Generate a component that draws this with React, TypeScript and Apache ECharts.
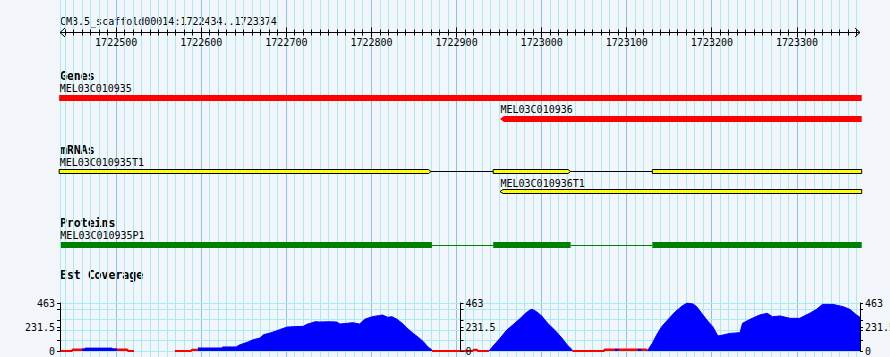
import React, { useEffect, useRef } from 'react';
import * as echarts from 'echarts';

// ---------- region & ruler ----------
const regionStart = 1722434;
const regionEnd = 1723374;
const regionTitle = 'CM3.5_scaffold00014:1722434..1723374';
const rulerLabels = [1722500, 1722600, 1722700, 1722800, 1722900, 1723000, 1723100, 1723200, 1723300];
const trackTitles = ['Genes', 'mRNAs', 'Proteins', 'Est Coverage'];

// ---------- genes ----------
const geneNames = ['MEL03C010935', 'MEL03C010936'];
const geneStarts = [1722433, 1722951];
const geneEnds = [1723376, 1723376];
const geneStrands = [1, -1];

// ---------- mRNAs ----------
const mrnaNames = ['MEL03C010935T1', 'MEL03C010936T1'];
const mrnaExons = [
  [[1722433, 1722867], [1722943, 1723031], [1723130, 1723376]],
  [[1722951, 1723376]],
];
const mrnaStrands = [1, -1];

// ---------- proteins ----------
const proteinNames = ['MEL03C010935P1'];
const proteinSegments = [
  [[1722435, 1722871], [1722943, 1723034], [1723130, 1723376]],
];

// ---------- EST coverage ----------
const coverageMax = 463;
const coverageTickValues = [0, 100, 200, 231.5, 300, 400, 463];
const coverageLabelValues = [0, 231.5, 463];
const coverageGridValues = [0, 100, 200, 300, 400, 463];

const coverageHigh = [
  [[1722460, 20], [1722463, 20], [1722464, 28], [1722495, 28], [1722496, 20], [1722501, 20]],
  [[1722596, 29], [1722624, 29], [1722625, 39], [1722641, 39], [1722644, 55], [1722649, 70], [1722655, 87],
   [1722661, 109], [1722669, 125], [1722673, 157], [1722681, 174], [1722687, 190], [1722692, 206],
   [1722701, 231], [1722710, 235], [1722720, 238], [1722724, 257], [1722728, 267], [1722734, 283],
   [1722739, 280], [1722751, 282], [1722759, 280], [1722763, 260], [1722771, 267], [1722778, 273],
   [1722786, 260], [1722792, 306], [1722801, 331], [1722808, 341], [1722813, 347], [1722819, 325],
   [1722824, 331], [1722830, 306], [1722836, 267], [1722842, 219], [1722849, 170], [1722855, 132],
   [1722861, 90], [1722866, 42], [1722871, 10]],
  [[1722938, 0], [1722943, 48], [1722951, 122], [1722959, 202], [1722966, 251], [1722975, 315],
   [1722980, 357], [1722986, 395], [1722989, 402], [1722994, 379], [1723000, 338], [1723007, 267],
   [1723016, 196], [1723024, 122], [1723030, 58], [1723036, 10]],
  [[1723086, 16], [1723090, 16]],
  [[1723113, 16], [1723117, 16]],
  [[1723124, 0], [1723130, 74], [1723135, 154], [1723141, 235], [1723148, 299], [1723157, 379],
   [1723165, 434], [1723171, 463], [1723178, 453], [1723182, 428], [1723188, 364], [1723194, 299],
   [1723201, 235], [1723207, 145], [1723213, 154], [1723221, 170], [1723233, 177], [1723236, 267],
   [1723245, 306], [1723256, 347], [1723265, 364], [1723271, 331], [1723280, 338], [1723292, 315],
   [1723303, 315], [1723315, 364], [1723323, 402], [1723330, 450], [1723342, 450], [1723354, 428],
   [1723362, 402], [1723370, 347], [1723374, 325]],
];

const coverageLow = [
  [[1722434, 0], [1722448, 0], [1722449, 15], [1722513, 15], [1722514, 0], [1722521, 0]],
  [[1722569, 0], [1722588, 0], [1722589, 12], [1722596, 12]],
  [[1722871, 0], [1722919, 0], [1722920, 12], [1722924, 12], [1722925, 0], [1722938, 0]],
  [[1723036, 0], [1723073, 0], [1723074, 14], [1723124, 14]],
];

// ---------- style / layout ----------
const BG = '#f2f6fa';
const GRID_MINOR = '#a8ecf2';
const GRID_MAJOR = '#86c6ee';
const FONT = '10px "DejaVu Sans Mono", monospace';
const BOLD = 'bold 11.5px "DejaVu Sans Mono", monospace';
const W = 890;
const H = 357;
const PLOT_LEFT = 60;
const PLOT_RIGHT = 30;

const L = {
  titleY: 21,
  rulerY: 32.5,
  rulerLabelY: 42.5,
  trackTitleY: [76, 150, 222.5, 275],
  geneLabelY: [88, 109],
  geneTop: [95, 116],
  geneH: 6,
  mrnaLabelY: [162, 183],
  mrnaTop: [169.5, 189.5],
  mrnaH: 4,
  protLabelY: [235.5],
  protTop: [242],
  protH: 6,
  covTop: 303,
  covH: 48,
};

const crisp = (v: number) => Math.round(v - 0.5) + 0.5;

// tick positions every 10 bp inside the region (derived from the scale)
const tickPositions: number[] = [];
for (let p = Math.ceil(regionStart / 10) * 10; p <= regionEnd; p += 10) tickPositions.push(p);

function textEl(text: string, x: number, y: number, font: string, align = 'left') {
  return { type: 'text', x, y, style: { text, x: 0, y: 0, font, fill: '#000', align, verticalAlign: 'middle' } };
}

function buildOption(): any {
  const X = (api: any, bp: number) => api.coord([bp, 0])[0];

  const gridLinesSeries = {
    type: 'custom', xAxisIndex: 0, yAxisIndex: 0, z: 1, silent: true,
    data: [[regionStart, 0], ...tickPositions.map((p) => [p, 0])],
    renderItem: (_p: any, api: any) => {
      const bp = api.value(0);
      const x = crisp(X(api, bp));
      const major = bp % 100 === 0;
      return {
        type: 'line',
        shape: { x1: x, y1: 0, x2: x, y2: H },
        style: { stroke: major ? GRID_MAJOR : GRID_MINOR, lineWidth: 1 },
      };
    },
  };

  const covGridSeries = {
    type: 'custom', xAxisIndex: 1, yAxisIndex: 1, z: 1, silent: true,
    data: coverageGridValues.map((v) => [regionStart, v]),
    renderItem: (_p: any, api: any) => {
      const v = api.value(1);
      const [x1, y] = api.coord([regionStart, v]);
      const [x2] = api.coord([regionEnd, v]);
      const yy = crisp(y);
      return { type: 'line', shape: { x1, y1: yy, x2, y2: yy }, style: { stroke: GRID_MINOR, lineWidth: 1 } };
    },
  };

  const rulerSeries = {
    type: 'custom', xAxisIndex: 0, yAxisIndex: 0, z: 3, silent: true,
    data: [[regionStart, regionEnd]],
    encode: { x: [0, 1] },
    renderItem: (_p: any, api: any) => {
      const x0 = X(api, api.value(0));
      const x1 = X(api, api.value(1));
      const y = L.rulerY;
      const children: any[] = [
        { type: 'line', shape: { x1: x0, y1: y, x2: x1, y2: y }, style: { stroke: '#000', lineWidth: 1 } },
        { type: 'polyline', shape: { points: [[x0 + 5, y - 4.5], [x0, y], [x0 + 5, y + 4.5]] }, style: { stroke: '#000', lineWidth: 1, fill: null } },
        { type: 'polyline', shape: { points: [[x1 - 5, y - 4.5], [x1, y], [x1 - 5, y + 4.5]] }, style: { stroke: '#000', lineWidth: 1, fill: null } },
      ];
      tickPositions.forEach((p) => {
        const x = crisp(X(api, p));
        const major = p % 100 === 0;
        children.push({
          type: 'line',
          shape: { x1: x, y1: major ? y - 5 : y - 3, x2: x, y2: major ? y + 5 : y + 3 },
          style: { stroke: '#000', lineWidth: 1 },
        });
      });
      rulerLabels.forEach((p) => {
        children.push(textEl(String(p), X(api, p), L.rulerLabelY, FONT, 'center'));
      });
      return { type: 'group', children };
    },
  };

  const geneSeries = {
    type: 'custom', xAxisIndex: 0, yAxisIndex: 0, z: 3, silent: true,
    data: geneStarts.map((s, i) => [s, geneEnds[i], i]),
    encode: { x: [0, 1], y: 2 },
    renderItem: (_p: any, api: any) => {
      const i = api.value(2);
      const x0 = X(api, api.value(0));
      const x1 = X(api, api.value(1));
      const top = L.geneTop[i];
      const h = L.geneH;
      const bar = geneStrands[i] < 0
        ? { type: 'polygon', shape: { points: [[x0, top + h / 2], [x0 + 4, top], [x1, top], [x1, top + h], [x0 + 4, top + h]] }, style: { fill: '#ff0000' } }
        : { type: 'rect', shape: { x: x0, y: top, width: x1 - x0, height: h }, style: { fill: '#ff0000' } };
      return { type: 'group', children: [bar, textEl(geneNames[i], x0 + 0.5, L.geneLabelY[i], FONT)] };
    },
  };

  const mrnaSeries = {
    type: 'custom', xAxisIndex: 0, yAxisIndex: 0, z: 3, silent: true,
    data: mrnaExons.map((ex, i) => [ex[0][0], ex[ex.length - 1][1], i]),
    encode: { x: [0, 1], y: 2 },
    renderItem: (_p: any, api: any) => {
      const i = api.value(2);
      const exons = mrnaExons[i];
      const strand = mrnaStrands[i];
      const top = L.mrnaTop[i];
      const h = L.mrnaH;
      const mid = top + h / 2;
      const children: any[] = [];
      for (let k = 0; k < exons.length - 1; k++) {
        const a = X(api, exons[k][1]) + (strand > 0 ? 2 : 0);
        const b = X(api, exons[k + 1][0]);
        children.push({ type: 'line', shape: { x1: a, y1: crisp(mid), x2: b, y2: crisp(mid) }, style: { stroke: '#000', lineWidth: 1 } });
      }
      exons.forEach((e, k) => {
        const x0 = X(api, e[0]);
        const x1 = X(api, e[1]);
        let points: number[][];
        if (strand > 0 && k < exons.length - 1) {
          points = [[x0, top], [x1, top], [x1 + 2.5, mid], [x1, top + h], [x0, top + h]];
        } else if (strand < 0 && k === 0) {
          points = [[x0, mid], [x0 + 3, top], [x1, top], [x1, top + h], [x0 + 3, top + h]];
        } else {
          points = [[x0, top], [x1, top], [x1, top + h], [x0, top + h]];
        }
        children.push({ type: 'polygon', shape: { points }, style: { fill: '#ffff00', stroke: '#000', lineWidth: 1 } });
      });
      children.push(textEl(mrnaNames[i], X(api, exons[0][0]) + 0.5, L.mrnaLabelY[i], FONT));
      return { type: 'group', children };
    },
  };

  const proteinSeries = {
    type: 'custom', xAxisIndex: 0, yAxisIndex: 0, z: 3, silent: true,
    data: proteinSegments.map((seg, i) => [seg[0][0], seg[seg.length - 1][1], i]),
    encode: { x: [0, 1], y: 2 },
    renderItem: (_p: any, api: any) => {
      const i = api.value(2);
      const segs = proteinSegments[i];
      const top = L.protTop[i];
      const h = L.protH;
      const mid = crisp(top + h / 2);
      const children: any[] = [];
      for (let k = 0; k < segs.length - 1; k++) {
        children.push({ type: 'line', shape: { x1: X(api, segs[k][1]), y1: mid, x2: X(api, segs[k + 1][0]), y2: mid }, style: { stroke: '#008000', lineWidth: 1 } });
      }
      segs.forEach((s) => {
        const x0 = X(api, s[0]);
        const x1 = X(api, s[1]);
        children.push({ type: 'rect', shape: { x: x0, y: top, width: x1 - x0, height: h }, style: { fill: '#008000' } });
      });
      children.push(textEl(proteinNames[i], X(api, segs[0][0]) - 0.5, L.protLabelY[i], FONT));
      return { type: 'group', children };
    },
  };

  const lowSeries = coverageLow.map((seg) => ({
    type: 'line', xAxisIndex: 1, yAxisIndex: 1, z: 3, silent: true,
    data: seg, symbol: 'none', showSymbol: false,
    lineStyle: { color: '#ff0000', width: 2 },
    areaStyle: { color: '#ff0000', opacity: 1 },
  }));
  const highSeries = coverageHigh.map((seg) => ({
    type: 'line', xAxisIndex: 1, yAxisIndex: 1, z: 4, silent: true,
    data: seg, symbol: 'none', showSymbol: false,
    lineStyle: { color: '#0000ff', width: 1 },
    areaStyle: { color: '#0000ff', opacity: 1 },
  }));

  const covAxis = (position: string, offset: number) => ({
    type: 'value', gridIndex: 1, min: 0, max: coverageMax, position, offset, z: 6,
    axisLine: { show: true, onZero: false, lineStyle: { color: '#000', width: 1 } },
    axisTick: { show: true, length: 3, customValues: coverageTickValues, lineStyle: { color: '#000', width: 1 } },
    axisLabel: {
      show: true, customValues: coverageLabelValues, margin: 5,
      formatter: (v: number) => String(v),
      color: '#000', fontFamily: '"DejaVu Sans Mono", monospace', fontSize: 10,
    },
    splitLine: { show: false },
  });

  return {
    animation: false,
    backgroundColor: BG,
    grid: [
      { left: PLOT_LEFT, right: PLOT_RIGHT, top: 0, height: H, containLabel: false, outerBoundsMode: 'none' },
      { left: PLOT_LEFT, right: PLOT_RIGHT, top: L.covTop, height: L.covH, containLabel: false, outerBoundsMode: 'none' },
    ],
    xAxis: [
      { type: 'value', gridIndex: 0, min: regionStart, max: regionEnd, show: false },
      { type: 'value', gridIndex: 1, min: regionStart, max: regionEnd, show: false },
    ],
    yAxis: [
      { type: 'value', gridIndex: 0, min: 0, max: H, inverse: true, show: false },
      covAxis('left', 0),
      covAxis('right', -(W - PLOT_RIGHT - 460.5)),
      covAxis('right', 0),
    ],
    graphic: [
      textEl(regionTitle, 60, L.titleY, FONT),
      ...trackTitles.map((t, i) => textEl(t, 60, L.trackTitleY[i], BOLD)),
    ],
    series: [
      gridLinesSeries,
      covGridSeries,
      rulerSeries,
      geneSeries,
      mrnaSeries,
      proteinSeries,
      ...lowSeries,
      ...highSeries,
    ],
  };
}

export default function App() {
  const ref = useRef<HTMLDivElement>(null);
  useEffect(() => {
    document.body.style.margin = '0';
    document.body.style.background = BG;
    const chart = echarts.init(ref.current as HTMLDivElement, null, { renderer: 'svg' });
    chart.setOption(buildOption());
    return () => chart.dispose();
  }, []);
  return <div ref={ref} style={{ width: W, height: H }} />;
}
